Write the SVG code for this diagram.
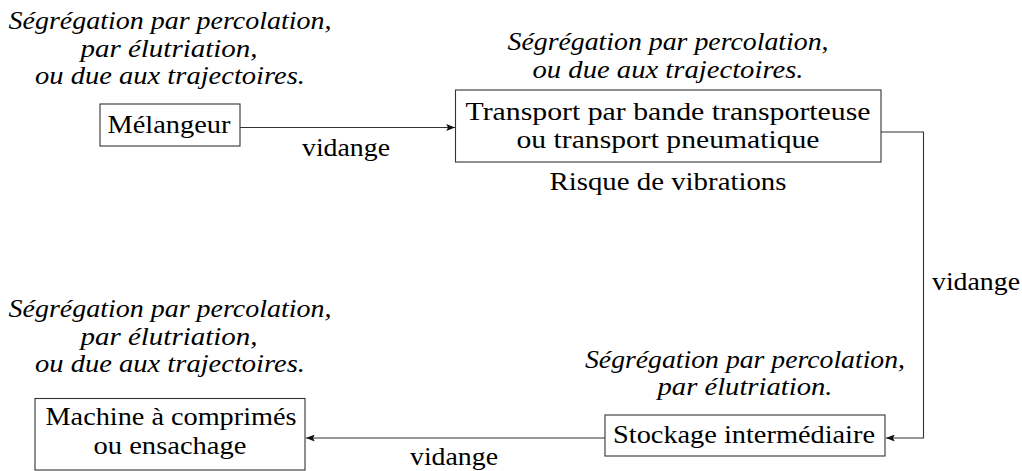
<svg xmlns="http://www.w3.org/2000/svg" width="1022" height="471" viewBox="0 0 1022 471">
  <style>
    .box { fill: #ffffff; stroke: #333333; stroke-width: 1.1; }
    .edge { fill: none; stroke: #333333; stroke-width: 1.1; }
    .lbl { font-family: "Liberation Serif", "Times New Roman", serif; font-size: 25px; fill: #000000; text-anchor: middle; }
    .note { font-family: "Liberation Serif", "Times New Roman", serif; font-size: 25px; font-style: italic; fill: #000000; text-anchor: middle; }
  </style>
  <defs>
    <marker id="arrow" viewBox="0 0 10 8" refX="10" refY="4" markerWidth="9" markerHeight="7" markerUnits="userSpaceOnUse" orient="auto">
      <path d="M0,0 L10,4 L0,8 L2,4 Z" fill="#111111"/>
    </marker>
  </defs>

  <!-- connectors with their labels -->
  <g id="connectors">
    <path class="edge" d="M240,127.5 H455" marker-end="url(#arrow)"/>
    <text class="lbl" x="346" y="156" textLength="88" lengthAdjust="spacingAndGlyphs">vidange</text>
    <path class="edge" d="M881,132 H923.5 V438 H886" marker-end="url(#arrow)"/>
    <text class="lbl" x="976" y="290" textLength="88" lengthAdjust="spacingAndGlyphs">vidange</text>
    <path class="edge" d="M605,438 H306" marker-end="url(#arrow)"/>
    <text class="lbl" x="454" y="465" textLength="88" lengthAdjust="spacingAndGlyphs">vidange</text>
  </g>

  <!-- mixer -->
  <g id="melangeur">
    <text class="note" x="170" y="29" textLength="323" lengthAdjust="spacingAndGlyphs">Ségrégation par percolation,</text>
    <text class="note" x="169" y="57" textLength="177" lengthAdjust="spacingAndGlyphs">par élutriation,</text>
    <text class="note" x="170" y="84" textLength="270" lengthAdjust="spacingAndGlyphs">ou due aux trajectoires.</text>
    <rect class="box" x="100" y="104" width="140" height="42"/>
    <text class="lbl" x="169" y="133" textLength="123" lengthAdjust="spacingAndGlyphs">Mélangeur</text>
  </g>

  <!-- conveying -->
  <g id="transport">
    <text class="note" x="668" y="50" textLength="321" lengthAdjust="spacingAndGlyphs">Ségrégation par percolation,</text>
    <text class="note" x="668" y="78" textLength="271" lengthAdjust="spacingAndGlyphs">ou due aux trajectoires.</text>
    <rect class="box" x="455.5" y="90" width="425.5" height="72"/>
    <text class="lbl" x="668" y="120" textLength="405" lengthAdjust="spacingAndGlyphs">Transport par bande transporteuse</text>
    <text class="lbl" x="668" y="148" textLength="303" lengthAdjust="spacingAndGlyphs">ou transport pneumatique</text>
    <text class="lbl" x="668" y="190" textLength="237" lengthAdjust="spacingAndGlyphs">Risque de vibrations</text>
  </g>

  <!-- intermediate storage -->
  <g id="stockage">
    <text class="note" x="745" y="368" textLength="320" lengthAdjust="spacingAndGlyphs">Ségrégation par percolation,</text>
    <text class="note" x="745" y="395" textLength="175" lengthAdjust="spacingAndGlyphs">par élutriation.</text>
    <rect class="box" x="605" y="415" width="280" height="41"/>
    <text class="lbl" x="744" y="443" textLength="262" lengthAdjust="spacingAndGlyphs">Stockage intermédiaire</text>
  </g>

  <!-- tableting / bagging -->
  <g id="machine">
    <text class="note" x="170" y="317" textLength="323" lengthAdjust="spacingAndGlyphs">Ségrégation par percolation,</text>
    <text class="note" x="169" y="345" textLength="177" lengthAdjust="spacingAndGlyphs">par élutriation,</text>
    <text class="note" x="170" y="372" textLength="270" lengthAdjust="spacingAndGlyphs">ou due aux trajectoires.</text>
    <rect class="box" x="35" y="398.5" width="270" height="71.5"/>
    <text class="lbl" x="171" y="425" textLength="251" lengthAdjust="spacingAndGlyphs">Machine à comprimés</text>
    <text class="lbl" x="170" y="454" textLength="153" lengthAdjust="spacingAndGlyphs">ou ensachage</text>
  </g>
</svg>
